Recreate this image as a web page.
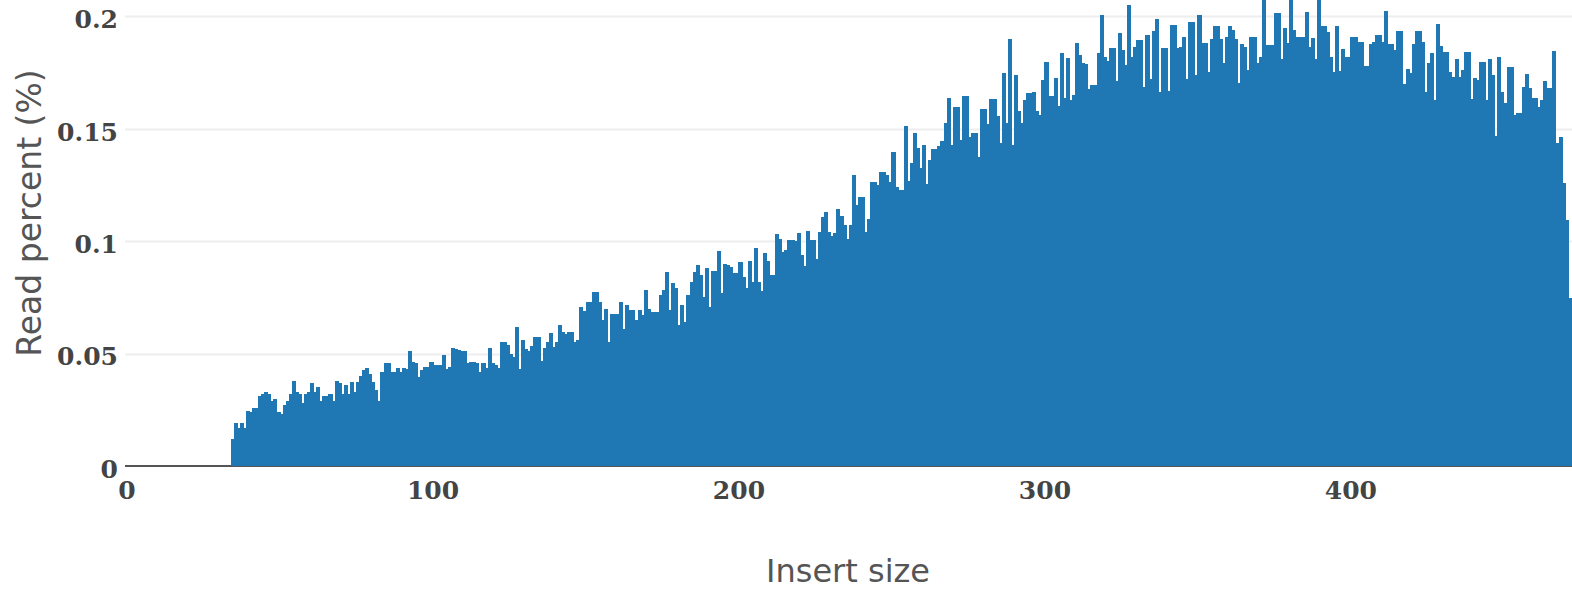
<!DOCTYPE html>
<html>
<head>
<meta charset="utf-8">
<script src="https://cdn.jsdelivr.net/npm/d3@7"></script>
<style>
  body { margin: 0; background: #fff; }
  #insertChart { width: 1572px; height: 591px; overflow: hidden; }
</style>
</head>
<body>
<div id="insertChart"></div>
<script>
// read percent per insert size, starting at insert size 35 (everything below is 0)
const firstInsertSize = 35;
const readPercent = [
  0.012, 0.019, 0.017, 0.019, 0.017, 0.0245, 0.024, 0.026, 0.026, 0.031,
  0.032, 0.033, 0.032, 0.029, 0.030, 0.024, 0.023, 0.027, 0.029, 0.032,
  0.038, 0.033, 0.032, 0.028, 0.032, 0.033, 0.037, 0.033, 0.035, 0.029,
  0.031, 0.031, 0.032, 0.029, 0.038, 0.037, 0.032, 0.036, 0.032, 0.0375,
  0.033, 0.0375, 0.040, 0.0425, 0.0435, 0.041, 0.0375, 0.034, 0.029, 0.042,
  0.0457, 0.0457, 0.042, 0.042, 0.0435, 0.042, 0.0435, 0.043, 0.0513, 0.0464,
  0.0457, 0.0397, 0.0425, 0.044, 0.044, 0.0464, 0.045, 0.045, 0.045, 0.0494,
  0.043, 0.044, 0.0523, 0.052, 0.0515, 0.051, 0.051, 0.046, 0.0464, 0.0464,
  0.046, 0.042, 0.046, 0.0435, 0.0523, 0.046, 0.045, 0.0435, 0.0553, 0.0553,
  0.054, 0.050, 0.0486, 0.0617, 0.043, 0.056, 0.052, 0.051, 0.0534, 0.0575,
  0.0575, 0.0467, 0.0523, 0.0553, 0.0593, 0.053, 0.055, 0.0627, 0.0597, 0.0587,
  0.0597, 0.0597, 0.055, 0.056, 0.0706, 0.069, 0.0731, 0.0731, 0.0775, 0.0775,
  0.0731, 0.065, 0.070, 0.0553, 0.0676, 0.0676, 0.0676, 0.0731, 0.0608, 0.0716,
  0.0694, 0.0694, 0.065, 0.0694, 0.067, 0.0783, 0.070, 0.0686, 0.0686, 0.0686,
  0.076, 0.0783, 0.0864, 0.0694, 0.0813, 0.079, 0.0627, 0.0716, 0.064, 0.076,
  0.082, 0.0864, 0.0894, 0.085, 0.0753, 0.088, 0.0709, 0.0869, 0.0869, 0.0958,
  0.0768, 0.0899, 0.0895, 0.0884, 0.086, 0.086, 0.0909, 0.084, 0.079, 0.091,
  0.082, 0.0968, 0.082, 0.078, 0.0949, 0.091, 0.085, 0.085, 0.103, 0.101,
  0.0953, 0.096, 0.1005, 0.1005, 0.100, 0.1038, 0.094, 0.089, 0.1047, 0.1005,
  0.1005, 0.092, 0.104, 0.1109, 0.1131, 0.104, 0.1023, 0.1035, 0.1142, 0.111,
  0.107, 0.101, 0.107, 0.1294, 0.116, 0.1198, 0.1198, 0.1042, 0.110, 0.1265,
  0.1265, 0.125, 0.131, 0.131, 0.1294, 0.1265, 0.1398, 0.1242, 0.1228, 0.1228,
  0.1512, 0.127, 0.1346, 0.1483, 0.1413, 0.1324, 0.1428, 0.1254, 0.1361, 0.1409,
  0.1409, 0.1423, 0.1447, 0.1524, 0.1636, 0.1428, 0.1596, 0.1596, 0.145, 0.1646,
  0.1646, 0.1465, 0.1483, 0.1483, 0.1373, 0.1587, 0.1587, 0.152, 0.1631, 0.1631,
  0.1557, 0.1435, 0.175, 0.1524, 0.1898, 0.1428, 0.174, 0.158, 0.1524, 0.163,
  0.1658, 0.1658, 0.1665, 0.158, 0.156, 0.1717, 0.1798, 0.1646, 0.1646, 0.1725,
  0.16, 0.1836, 0.1636, 0.1814, 0.1628, 0.165, 0.1883, 0.1828, 0.1791, 0.179,
  0.1676, 0.1695, 0.1695, 0.1839, 0.2006, 0.1818, 0.180, 0.1858, 0.1858, 0.1714,
  0.1925, 0.185, 0.1784, 0.2051, 0.182, 0.1865, 0.1895, 0.1895, 0.1685, 0.1917,
  0.172, 0.1936, 0.199, 0.1665, 0.1858, 0.1858, 0.167, 0.1962, 0.1962, 0.1858,
  0.1865, 0.191, 0.172, 0.1976, 0.1976, 0.174, 0.2006, 0.188, 0.188, 0.1754,
  0.1898, 0.1957, 0.1957, 0.1898, 0.1791, 0.1907, 0.1957, 0.194, 0.1898, 0.1705,
  0.1877, 0.1865, 0.1762, 0.1907, 0.1907, 0.1793, 0.182, 0.209, 0.1873, 0.1873,
  0.1873, 0.2014, 0.2014, 0.181, 0.1948, 0.188, 0.209, 0.194, 0.191, 0.191,
  0.191, 0.2021, 0.1865, 0.1903, 0.1809, 0.209, 0.1957, 0.1957, 0.1932, 0.1818,
  0.1754, 0.1957, 0.1758, 0.1853, 0.1818, 0.1818, 0.1907, 0.1907, 0.1888, 0.1884,
  0.1779, 0.1779, 0.1877, 0.1888, 0.1917, 0.1917, 0.1884, 0.2025, 0.1877, 0.1877,
  0.185, 0.1936, 0.1936, 0.170, 0.1765, 0.175, 0.1877, 0.1936, 0.1936, 0.1888,
  0.1665, 0.1791, 0.1836, 0.1628, 0.1966, 0.1868, 0.1843, 0.1843, 0.1754, 0.1729,
  0.1809, 0.1729, 0.176, 0.1843, 0.1843, 0.1631, 0.1725, 0.1717, 0.1798, 0.1798,
  0.1628, 0.1809, 0.174, 0.1468, 0.1818, 0.1665, 0.1616, 0.1776, 0.1776, 0.1561,
  0.1572, 0.1572, 0.1685, 0.1744, 0.168, 0.1636, 0.1636, 0.1598, 0.1628, 0.1714,
  0.168, 0.168, 0.1847, 0.1435, 0.1462, 0.1258, 0.1094, 0.0746, 0.0219
];
const insertSizes = readPercent.map((d, i) => firstInsertSize + i);

const xTicks = [0, 100, 200, 300, 400];
const yTicks = [0, 0.05, 0.1, 0.15, 0.2];
const yTickLabels = ["0", "0.05", "0.1", "0.15", "0.2"];

const xTitle = "Insert size";
const yTitle = "Read percent (%)";

const W = 1572, H = 591;
const plot = { left: 125, right: 1572, top: 0, bottom: 466 };

function createScales() {
  const xScale = d3
    .scaleLinear()
    .domain([0, 472.9])
    .range([plot.left, plot.right]);

  const yScale = d3
    .scaleLinear()
    .domain([0, 0.2073])
    .range([plot.bottom, plot.top]);

  return { xScale, yScale };
}

function createSvg() {
  return d3
    .select("#insertChart")
    .append("svg")
    .attr("width", W)
    .attr("height", H);
}

function drawGrid(svg, xScale, yScale) {
  svg
    .append("g")
    .selectAll("line")
    .data(yTicks.slice(1))
    .join("line")
    .attr("x1", plot.left)
    .attr("x2", plot.right)
    .attr("y1", (d) => Math.round(yScale(d)) + 0.5)
    .attr("y2", (d) => Math.round(yScale(d)) + 0.5)
    .attr("stroke", "#eeeeee")
    .attr("stroke-width", 2);

  // zero line
  svg
    .append("line")
    .attr("x1", plot.left)
    .attr("x2", plot.right)
    .attr("y1", yScale(0))
    .attr("y2", yScale(0))
    .attr("stroke", "#555")
    .attr("stroke-width", 2);
}

function drawBars(svg, xScale, yScale) {
  svg
    .append("clipPath")
    .attr("id", "plotClip")
    .append("rect")
    .attr("x", plot.left)
    .attr("y", plot.top)
    .attr("width", plot.right - plot.left)
    .attr("height", plot.bottom - plot.top);

  // bars touch each other (no gap), so overlap them slightly to hide seams
  svg
    .append("g")
    .attr("clip-path", "url(#plotClip)")
    .attr("shape-rendering", "crispEdges")
    .selectAll("rect")
    .data(insertSizes)
    .join("rect")
    .attr("x", (d) => xScale(d - 0.5))
    .attr("width", (d) => xScale(d + 0.5) - xScale(d - 0.5) + 1)
    .attr("y", (d, i) => yScale(readPercent[i]))
    .attr("height", (d, i) => yScale(0) - yScale(readPercent[i]) + 1)
    .attr("fill", "#1f77b4");
}

function addAxes(svg, xScale, yScale) {
  const tickFont = "'DejaVu Serif', serif";

  svg
    .append("g")
    .selectAll("text")
    .data(yTicks)
    .join("text")
    .attr("x", plot.left - 7)
    .attr("y", (d) => yScale(d) + 3)
    .attr("dy", "0.35em")
    .attr("text-anchor", "end")
    .style("font-family", tickFont)
    .style("font-weight", "bold")
    .style("font-size", "25px")
    .style("fill", "#444")
    .text((d, i) => yTickLabels[i]);

  svg
    .append("g")
    .selectAll("text")
    .data(xTicks)
    .join("text")
    .attr("x", (d) => xScale(d) + 2)
    .attr("y", plot.bottom + 24)
    .attr("dy", "0.35em")
    .attr("text-anchor", "middle")
    .style("font-family", tickFont)
    .style("font-weight", "bold")
    .style("font-size", "25px")
    .style("fill", "#444")
    .text((d) => d);
}

function addTitles(svg) {
  svg
    .append("text")
    .attr("x", 848)
    .attr("y", 582)
    .attr("text-anchor", "middle")
    .style("font-family", "'DejaVu Sans', sans-serif")
    .style("font-size", "32px")
    .style("fill", "#555")
    .text(xTitle);

  svg
    .append("text")
    .attr("transform", "translate(29,213) rotate(-90)")
    .attr("dy", "0.35em")
    .attr("text-anchor", "middle")
    .style("font-family", "'DejaVu Sans', sans-serif")
    .style("font-size", "33px")
    .style("fill", "#555")
    .text(yTitle);
}

const { xScale, yScale } = createScales();
const svg = createSvg();
drawGrid(svg, xScale, yScale);
drawBars(svg, xScale, yScale);
addAxes(svg, xScale, yScale);
addTitles(svg);
</script>
</body>
</html>
